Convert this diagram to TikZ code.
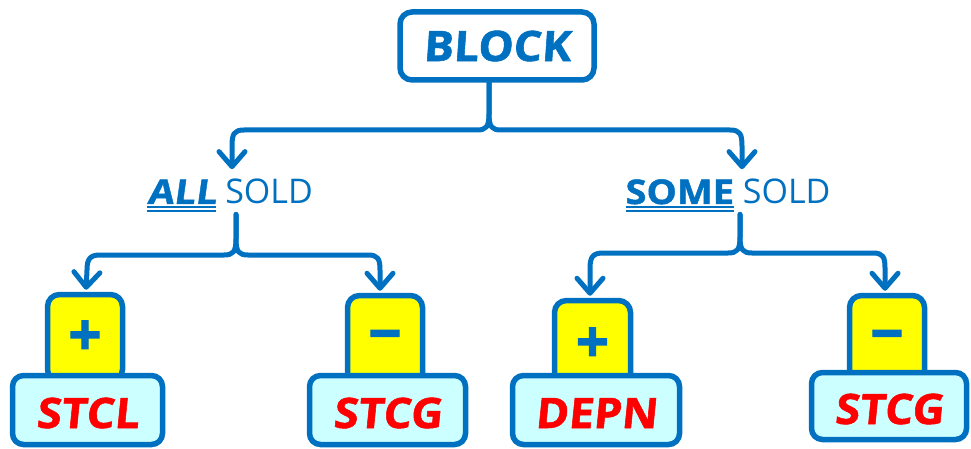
\documentclass[tikz,border=0pt]{standalone}
\usepackage{fontspec}
\setmainfont{Open Sans}
% heavy faces: bold with a mild slant, widened and thickened
\newfontfamily\rootheavy{Open Sans}[BoldFeatures={FakeSlant=0.07,FakeBold=1.3,FakeStretch=1.06}]
\newfontfamily\slantheavy{Open Sans}[BoldFeatures={FakeSlant=0.1,FakeBold=1.3,FakeStretch=1.06}]
\newfontfamily\wideheavy{Open Sans}[BoldFeatures={FakeBold=1.4,FakeStretch=1.12}]
\newfontfamily\wideslant{Open Sans}[BoldFeatures={FakeSlant=0.14,FakeBold=1.4,FakeStretch=1.12}]
\newfontfamily\signfont{Open Sans}[BoldFeatures={FakeBold=2}]
\usetikzlibrary{arrows.meta,calc}
\definecolor{lineblue}{HTML}{0070C0}
\definecolor{boxcyan}{HTML}{CCFFFF}
\definecolor{signyellow}{HTML}{FFFF00}
\definecolor{labelred}{HTML}{FF0000}
% double underline drawn with two rules of the text's width
\newcommand\dblunder[1]{\leavevmode\setbox0=\hbox{#1}%
  \rlap{\rule[-3.8pt]{\wd0}{2.2pt}}\rlap{\rule[-8.2pt]{\wd0}{2.2pt}}\box0\relax}

\begin{document}
\begin{tikzpicture}[x=1pt,y=-1pt,
  rootbox/.style={draw=lineblue,fill=white,line width=5.5pt,rounded corners=12pt,
    minimum width=194pt,minimum height=68pt,inner sep=0pt,text=lineblue,
    font=\rootheavy\fontsize{42}{42}\selectfont\bfseries},
  branch/.style={inner sep=2pt,text=lineblue,font=\fontsize{34}{34}\selectfont},
  signbox/.style={draw=lineblue,fill=signyellow,line width=5.5pt,rounded corners=12pt,
    minimum width=75pt,inner sep=0pt,text=lineblue,
    font=\signfont\fontsize{58}{58}\selectfont\bfseries},
  namebox/.style={draw=lineblue,fill=boxcyan,line width=5.5pt,rounded corners=11pt,
    inner sep=0pt,text=labelred,text height=36pt,text depth=0pt,
    font=\slantheavy\fontsize{42}{42}\selectfont\bfseries},
  conn/.style={draw=lineblue,line width=5pt,line cap=round,line join=round,
    -{Straight Barb[length=15pt,width=26pt,round]}},
]
\useasboundingbox (0,0) rectangle (971,449);

% root
\node[rootbox] (block) at (497,46) {BLOCK};

% branches
\node[branch,anchor=base] (all) at (230,204) {\dblunder{\wideslant\bfseries ALL} SOLD};
\node[branch,anchor=base] (some) at (728,204) {\dblunder{\wideheavy\bfseries SOME} SOLD};

% sign tabs (their lower part sits behind the name boxes)
\node[signbox,minimum height=87pt] (p1) at (85,338) {+};
\node[signbox,minimum height=93pt] (p2) at (385,342) {−};
\node[signbox,minimum height=89pt,minimum width=76pt] (p3) at (592.5,345) {+};
\node[signbox,minimum height=93pt] (p4) at (887,342) {−};

% name boxes
\node[namebox,minimum width=150pt,minimum height=69pt] (s1) at (87.5,410) {STCL};
\node[namebox,minimum width=156pt,minimum height=69pt] (s2) at (387.5,410) {STCG};
\node[namebox,minimum width=167pt,minimum height=69pt] (s3) at (596,410) {DEPN};
\node[namebox,minimum width=155pt,minimum height=67pt] (s4) at (889,406) {STCG};

% brace-shaped connectors
\draw[conn,shorten >=8pt] ($(block.south)+(-8,0)$) -- (489,114)
  .. controls (489,127) and (486,130) .. (477,130) -- (244,130)
  .. controls (234,130) and (232,134) .. (232,146) -- ($(all.north)+(2,0)$);
\draw[conn,shorten >=8pt] ($(block.south)+(-8,0)$) -- (489,114)
  .. controls (489,127) and (492,130) .. (501,130) -- (730,130)
  .. controls (740,130) and (742,134) .. (742,146) -- ($(some.north)+(14,0)$);

\draw[conn,shorten >=2pt] ($(all.south)+(6,0)$) -- (236,239)
  .. controls (236,252) and (233,255) .. (224,255) -- (100,255)
  .. controls (90,255) and (87,259) .. (87,270) -- ($(p1.north)+(1,0)$);
\draw[conn,shorten >=2pt] ($(all.south)+(6,0)$) -- (236,239)
  .. controls (236,252) and (239,255) .. (248,255) -- (368,255)
  .. controls (378,255) and (380,259) .. (380,270) -- ($(p2.north)+(-5,0)$);

\draw[conn,shorten >=2pt] ($(some.south)+(12,0)$) -- (740,237)
  .. controls (740,250) and (737,253) .. (728,253) -- (603,253)
  .. controls (593,253) and (590,257) .. (590,268) -- ($(p3.north)+(-2.5,0)$);
\draw[conn,shorten >=2pt] ($(some.south)+(12,0)$) -- (740,237)
  .. controls (740,250) and (743,253) .. (752,253) -- (873,253)
  .. controls (883,253) and (885,257) .. (885,268) -- ($(p4.north)+(-2,0)$);
\end{tikzpicture}
\end{document}
